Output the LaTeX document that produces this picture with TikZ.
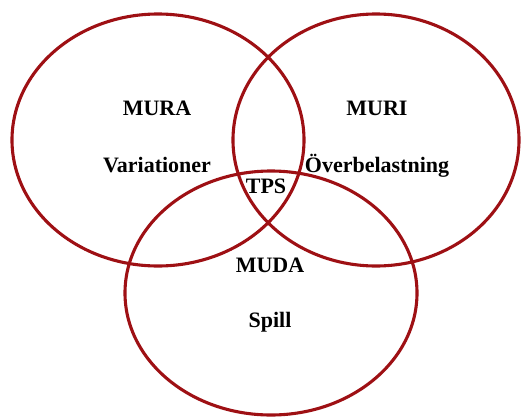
\documentclass[tikz,border=0pt]{standalone}
\usepackage{fontspec}
\setmainfont{Liberation Serif}
\definecolor{ringred}{RGB}{158,16,20}
\begin{document}
\begin{tikzpicture}[x=1pt,y=-1pt,
  ring/.style={draw=ringred,line width=3.1pt},
  label/.style={font=\bfseries\fontsize{22}{24}\selectfont,anchor=base,inner sep=0pt}]
\useasboundingbox (0,0) rectangle (522,418);
% the three overlapping circles
\draw[ring] (158,140) ellipse [x radius=146, y radius=126];
\draw[ring] (376,140) ellipse [x radius=143, y radius=126];
\draw[ring] (271,293) ellipse [x radius=146, y radius=122];
% labels
\node[label] (mura) at (157,115) {MURA};
\node[label] (var) at (157,172) {Variationer};
\node[label] (muri) at (377,115) {MURI};
\node[label] (over) at (377,172) {Överbelastning};
\node[label] (tps) at (266,193) {TPS};
\node[label] (muda) at (270,272) {MUDA};
\node[label] (spill) at (270,327) {Spill};
\end{tikzpicture}
\end{document}
